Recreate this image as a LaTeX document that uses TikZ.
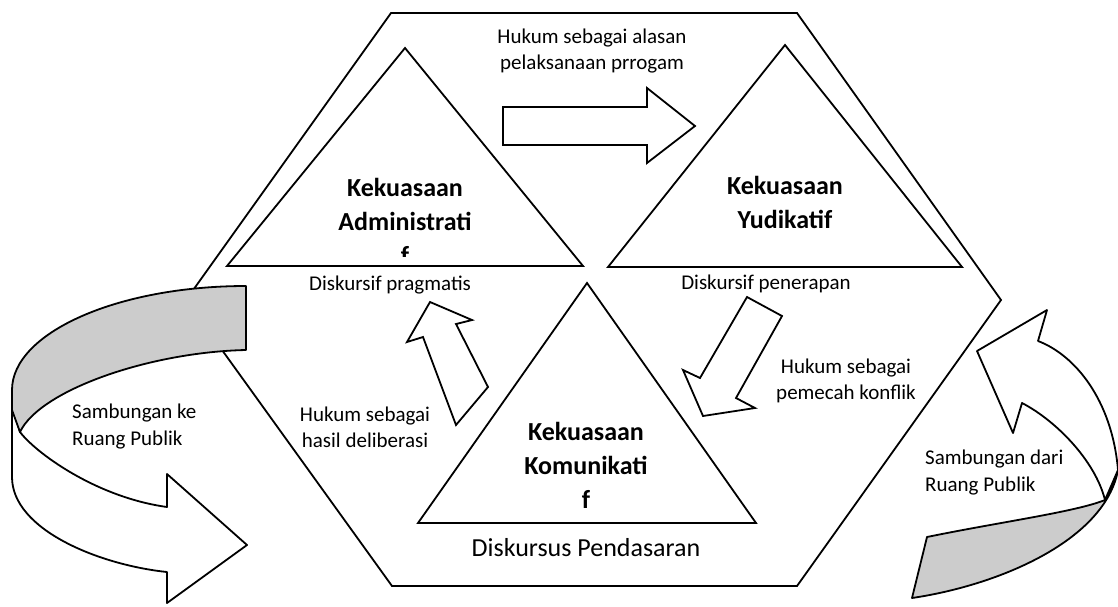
\documentclass[tikz,border=0pt]{standalone}
\usepackage{fontspec}
\setmainfont{Carlito}
\usetikzlibrary{positioning}

\begin{document}
\begin{tikzpicture}[x=1pt,y=-1pt,
	shape_line/.style ={draw=black, line width=1.8pt, line join=miter, fill=white},
	fold_band/.style ={draw=black, line width=1.8pt, line join=round, fill=black!20},
	power_text/.style ={align=center, inner sep=0pt,
		font=\fontsize{26}{34}\selectfont\bfseries},
	note_text/.style ={align=center, inner sep=0pt,
		font=\fontsize{21}{26}\selectfont},
	side_text/.style ={align=left, inner sep=0pt, anchor=west,
		font=\fontsize{21}{27}\selectfont}]
	\useasboundingbox (0,0) rectangle (1118,606);
	% the hexagon round everything
	\draw[shape_line] (391,13) -- (797,13) -- (1001,300) -- (797,586)
		-- (392,586) -- (186,300) -- cycle;
	% the three powers
	\draw[shape_line] (405,48) -- (583,266) -- (227,266) -- cycle;
	\draw[shape_line] (785,45) -- (962,267) -- (608,267) -- cycle;
	\draw[shape_line] (587,283) -- (756,523) -- (418,523) -- cycle;
	\begin{scope}
		\clip (300,150) rectangle (510,256);
		\node[power_text] (administratif) at (405,221)
			{Kekuasaan\\Administrati\\f};
	\end{scope}
	\node[power_text] (yudikatif) at (785,202) {Kekuasaan\\Yudikatif};
	\node[power_text] (komunikatif) at (586,465) {Kekuasaan\\Komunikati\\f};
	% discourse labels
	\node[note_text] (pragmatis) at (390,285) {Diskursif pragmatis};
	\node[note_text] (penerapan) at (766,284) {Diskursif penerapan};
	\node[note_text, font=\fontsize{26}{32}\selectfont] (pendasaran) at (586,548)
		{Diskursus Pendasaran};
	% law labels
	\node[note_text] (alasan) at (592,51) {Hukum sebagai alasan\\pelaksanaan prrogam};
	\node[note_text] (pemecah) at (846,381) {Hukum sebagai\\pemecah konflik};
	\node[note_text] (deliberasi) at (365,427) {Hukum sebagai\\hasil deliberasi};
	% block arrows between the powers
	\draw[shape_line] (503,107) -- (647,107) -- (647,88) -- (695,126)
		-- (647,163) -- (647,145) -- (503,145) -- cycle;
	\draw[shape_line] (747,297) -- (782,316) -- (736,398) -- (755,408)
		-- (703,416) -- (683,370) -- (700,378) -- cycle;
	\draw[shape_line] (430,302) -- (472,320) -- (456,324) -- (488,387)
		-- (456,425) -- (423,337) -- (407,342) -- cycle;
	% curved arrow to the public sphere
	\draw[shape_line, line join=round] (20,432) .. controls (35,452) and (95,497) .. (167,507)
		-- (167,474) -- (247,545) -- (167,603) -- (167,572)
		.. controls (100,565) and (12,530) .. (12,477) -- (12,405) -- cycle;
	\draw[fold_band] (246,286) -- (246,350) .. controls (150,352) and (40,390) .. (20,432)
		-- (12,410) -- (12,390) .. controls (12,333) and (117,286) .. (246,286) -- cycle;
	\node[side_text] (keruang) at (72,427) {Sambungan ke\\Ruang Publik};
	% curved arrow from the public sphere
	\draw[fold_band] (927,537) .. controls (1000,522) and (1075,512) .. (1105,500)
		-- (1118,470) .. controls (1105,540) and (1000,585) .. (912,598) -- cycle;
	\draw[shape_line, line join=round] (1038,341) -- (1047,310) -- (977,351) -- (1013,433)
		-- (1022,403) .. controls (1055,420) and (1095,460) .. (1105,500)
		-- (1118,470) .. controls (1112,400) and (1075,355) .. (1038,341) -- cycle;
	\node[side_text] (dariruang) at (925,473) {Sambungan dari\\Ruang Publik};
\end{tikzpicture}
\end{document}
